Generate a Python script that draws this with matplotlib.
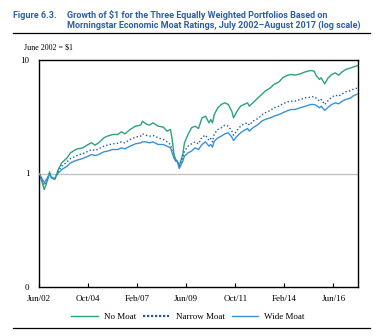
import matplotlib
matplotlib.use("Agg")
import matplotlib.pyplot as plt
from matplotlib.lines import Line2D

# months since June 2002
months = [0, 1, 3, 5, 6, 7, 9, 11, 13, 16,
          18, 21, 23, 25, 28, 30, 32, 34, 37, 39,
          42, 45, 47, 49, 52, 55, 58, 59, 61, 63,
          65, 68, 71, 73, 75, 76, 77, 78, 79, 80,
          82, 83, 85, 87, 89, 91, 93, 95, 97, 98,
          99, 100, 102, 104, 106, 108, 110, 111, 113, 115,
          117, 119, 120, 122, 125, 127, 129, 132, 134, 137,
          139, 142, 144, 146, 149, 152, 155, 157, 158, 160,
          161, 163, 165, 167, 169, 171, 173, 175, 178, 179,
          182]

no_moat = [1.00, 0.916, 0.723, 0.885, 1.034, 0.916, 0.885, 1.084, 1.242, 1.374,
           1.521, 1.627, 1.660, 1.683, 1.801, 1.863, 1.777, 1.863, 2.062, 2.133,
           2.206, 2.206, 2.329, 2.236, 2.442, 2.612, 2.667, 2.891, 2.739, 2.667,
           2.795, 2.612, 2.560, 2.361, 2.442, 1.993, 1.470, 1.328, 1.284, 1.160,
           1.470, 1.863, 2.206, 2.526, 2.612, 2.492, 3.094, 3.199, 2.795, 2.991,
           2.795, 3.310, 3.790, 4.055, 4.195, 4.055, 3.541, 3.094, 3.541, 3.920,
           4.055, 4.195, 3.920, 4.195, 4.642, 4.966, 5.314, 5.685, 6.085, 6.424,
           6.966, 7.353, 7.453, 7.353, 7.550, 7.867, 8.082, 7.974, 7.353, 6.734,
           6.966, 6.166, 6.966, 7.453, 7.709, 7.353, 7.867, 8.247, 8.531, 8.648,
           8.945]

narrow_moat = [1.00, 0.928, 0.789, 0.916, 0.993, 0.928, 0.904, 1.049, 1.160, 1.267,
               1.356, 1.421, 1.470, 1.490, 1.573, 1.627, 1.594, 1.649, 1.741, 1.777,
               1.825, 1.850, 1.901, 1.863, 1.993, 2.090, 2.133, 2.236, 2.176, 2.133,
               2.162, 2.062, 1.993, 1.901, 1.801, 1.573, 1.356, 1.302, 1.267, 1.122,
               1.374, 1.573, 1.741, 1.825, 1.901, 1.825, 2.090, 2.176, 1.953, 2.034,
               1.901, 2.236, 2.442, 2.526, 2.667, 2.612, 2.361, 2.176, 2.393, 2.612,
               2.739, 2.795, 2.667, 2.891, 3.052, 3.266, 3.423, 3.590, 3.790, 3.920,
               4.111, 4.280, 4.339, 4.339, 4.487, 4.642, 4.705, 4.769, 4.642, 4.339,
               4.487, 4.055, 4.398, 4.705, 4.898, 4.801, 5.030, 5.243, 5.387, 5.496,
               5.685]

wide_moat = [1.00, 0.947, 0.828, 0.928, 0.980, 0.928, 0.904, 1.014, 1.084, 1.160,
             1.242, 1.302, 1.328, 1.356, 1.421, 1.470, 1.441, 1.470, 1.552, 1.573,
             1.627, 1.627, 1.683, 1.649, 1.741, 1.825, 1.863, 1.901, 1.901, 1.863,
             1.901, 1.801, 1.801, 1.741, 1.683, 1.521, 1.374, 1.284, 1.267, 1.107,
             1.284, 1.421, 1.521, 1.573, 1.683, 1.627, 1.801, 1.901, 1.741, 1.801,
             1.706, 1.927, 2.062, 2.133, 2.236, 2.282, 2.090, 1.953, 2.133, 2.282,
             2.393, 2.492, 2.361, 2.526, 2.703, 2.891, 2.991, 3.094, 3.199, 3.310,
             3.423, 3.590, 3.664, 3.664, 3.790, 3.920, 4.055, 4.055, 4.000, 3.790,
             3.920, 3.590, 3.842, 4.055, 4.195, 4.111, 4.339, 4.487, 4.642, 4.801,
             5.030]

tick_months = [0, 28, 56, 84, 112, 140, 168]
tick_labels = ["Jun/02", "Oct/04", "Feb/07", "Jun/09", "Oct/11", "Feb/14", "Jun/16"]

green = "#2ba27a"
navy = "#2456a4"
blue = "#3a91d8"
title_blue = "#2f5f9e"
serif = "Liberation Serif"
head_font = "Roboto"

W, H = 375, 336
fig = plt.figure(figsize=(W / 100, H / 100), dpi=100)
ax = fig.add_axes([39 / W, 1 - 287 / H, (358 - 39) / W, (287 - 60) / H])

ax.axhline(1, color="#c2c2c2", lw=1.0, zorder=1)
ax.plot(months, no_moat, color=green, lw=1.0, zorder=2)
ax.plot(months, narrow_moat, color=navy, lw=1.0, ls=(0, (1, 1.6)), zorder=3)
ax.plot(months, wide_moat, color=blue, lw=1.0, zorder=4)

ax.set_yscale("log")
ax.set_ylim(0.1, 10)
ax.set_xlim(0, 182)
ax.set_yticks([0.1, 1, 10])
ax.set_yticklabels(["0", "1", "10"], fontfamily=serif, fontsize=6.5)
ax.yaxis.set_minor_locator(matplotlib.ticker.NullLocator())
ax.tick_params(axis="y", length=0, pad=7)
ax.set_xticks(tick_months)
ax.set_xticklabels(tick_labels, fontfamily=serif, fontsize=6.5)
ax.tick_params(axis="x", direction="in", length=3, width=0.8, pad=6)
for s in ax.spines.values():
    s.set_linewidth(1.0)

def px(x, y):
    return x / W, 1 - y / H

head = dict(fontfamily=head_font, fontweight="bold", fontsize=6.5,
            color=title_blue, va="center")
fig.text(*px(13, 15), "Figure 6.3.", **head)
fig.text(*px(67, 15), "Growth of $1 for the Three Equally Weighted Portfolios Based on", **head)
fig.text(*px(67, 25), "Morningstar Economic Moat Ratings, July 2002\u2013August 2017 (log scale)", **head)
fig.add_artist(Line2D([13 / W, 370 / W], [1 - 33 / H, 1 - 33 / H], color="black", lw=0.9))
fig.add_artist(Line2D([13 / W, 370 / W], [1 - 328 / H, 1 - 328 / H], color="black", lw=0.9))
fig.text(*px(24, 47), "June 2002 = $1", fontfamily=serif, fontsize=5.8, va="center")

handles = [Line2D([], [], color=green, lw=1.0),
           Line2D([], [], color=navy, lw=1.6, ls=(0, (1, 0.8))),
           Line2D([], [], color=blue, lw=1.0)]
fig.legend(handles, ["No Moat", "Narrow Moat", "Wide Moat"], loc="center",
           bbox_to_anchor=px(188, 317), ncol=3, frameon=False,
           prop={"family": serif, "size": 6.5}, handlelength=2.9,
           columnspacing=0.8, handletextpad=0.7)

fig.savefig("out.png", dpi=100)
